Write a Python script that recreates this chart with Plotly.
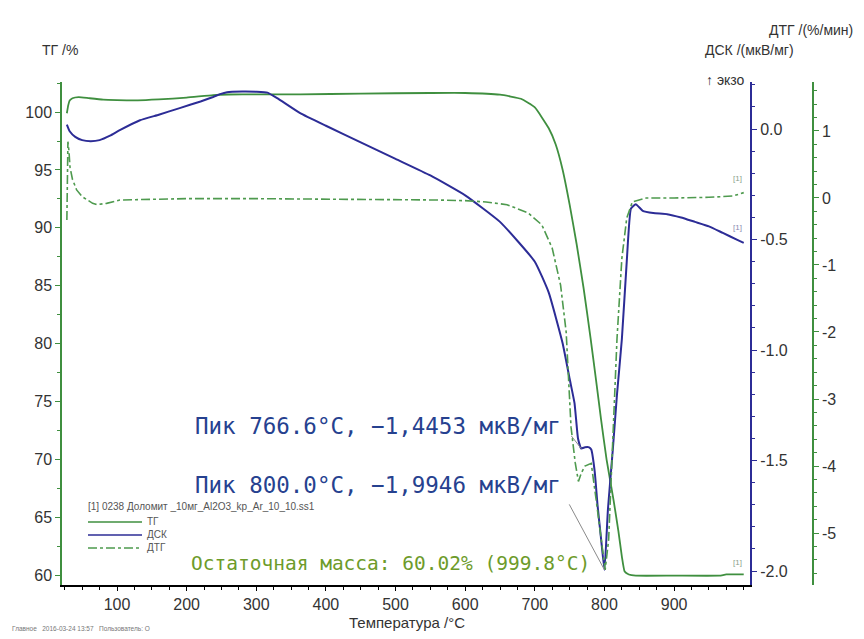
import plotly.graph_objects as go

# ---------------- data ----------------
T_tg = [28, 30, 32, 36, 45, 60, 80, 100, 130, 160, 200, 238, 260, 300, 363, 450, 550,
        600, 650, 680, 700, 720, 730, 740, 750, 760, 770, 780, 788, 795, 803, 813,
        820, 825, 829, 835, 845, 900, 965, 975, 1000]
tg = [99.9, 100.6, 101.0, 101.2, 101.3, 101.2, 101.08, 101.04, 101.02, 101.1, 101.25,
      101.47, 101.52, 101.53, 101.53, 101.6, 101.65, 101.65, 101.5, 101.15, 100.4,
      98.6, 97.2, 95.0, 92.0, 88.6, 84.8, 80.5, 76.8, 73.5, 70.0, 66.5, 63.8, 61.6,
      60.3, 60.05, 59.95, 59.95, 59.95, 60.05, 60.05]

T_dsc = [28, 32, 40, 50, 62, 75, 90, 104, 133, 160, 190, 220, 238, 248, 258, 280, 300,
         316, 330, 363, 400, 450, 500, 550, 600, 650, 700, 720, 740, 750, 757, 762,
         766.6, 772, 778, 781, 786, 790, 795, 800, 805, 812, 818, 825, 832, 838, 845,
         855, 870, 890, 910, 930, 950, 970, 990, 1000]
dsc = [0.02, -0.01, -0.035, -0.05, -0.055, -0.05, -0.03, -0.005, 0.04, 0.065, 0.095,
       0.125, 0.145, 0.158, 0.167, 0.17, 0.169, 0.165, 0.14, 0.072, 0.015, -0.06,
       -0.135, -0.21, -0.30, -0.42, -0.60, -0.74, -0.97, -1.13, -1.24, -1.40,
       -1.4453, -1.44, -1.44, -1.45, -1.55, -1.70, -1.85, -1.9946, -1.72, -1.45,
       -1.2, -0.95, -0.6, -0.36, -0.34, -0.37, -0.38, -0.385, -0.40, -0.42, -0.44,
       -0.47, -0.50, -0.515]

T_dtg = [28, 29.5, 31, 32.5, 36, 42, 50, 57, 65, 71, 85, 104, 150, 200, 300, 400, 500,
         560, 600, 630, 660, 690, 710, 725, 737, 745, 752, 758, 762.6, 767, 772, 781,
         788, 795, 801, 806, 812, 818, 825, 832, 840, 860, 900, 950, 985, 1000]
dtg = [-0.33, 0.84, 0.7, 0.46, 0.28, 0.12, 0.02, -0.03, -0.08, -0.10, -0.08, -0.03,
       -0.02, -0.01, -0.01, -0.015, -0.02, -0.03, -0.04, -0.06, -0.1, -0.22, -0.4,
       -0.75, -1.3, -2.0, -3.42, -3.95, -4.23, -4.1, -4.0, -3.96, -4.5, -5.1, -5.55,
       -5.1, -3.6, -2.1, -0.9, -0.3, -0.06, 0.0, 0.0, 0.01, 0.03, 0.08]

x_ticks = [100, 200, 300, 400, 500, 600, 700, 800, 900]
tg_ticks = [60, 65, 70, 75, 80, 85, 90, 95, 100]
dsc_ticks = [0.0, -0.5, -1.0, -1.5, -2.0]
dtg_ticks = [1, 0, -1, -2, -3, -4, -5]

peak_T = [766.6, 800.0]
peak_val = [-1.4453, -1.9946]
residual_mass = 60.02
residual_T = 999.8

# ---------------- style ----------------
W, H = 864, 639
L, R, T, B = 62, 40, 82, 54
PW = W - L - R
PH = H - T - B


def px(xp):
    return (xp - L) / PW


def py(yp):
    return (H - B - yp) / PH


GREEN = "#3f8f3f"
GREEN_DTG = "#4e9a4e"
BLUE = "#2c2c96"
TXT = "#333333"
TICKFONT = dict(family="Liberation Sans, Arial, sans-serif", size=16, color=TXT)

fig = go.Figure()
fig.add_trace(go.Scatter(x=T_tg, y=tg, mode="lines", name="ТГ",
                         line=dict(color=GREEN, width=1.8, shape="spline", smoothing=0.4),
                         yaxis="y", showlegend=False))
fig.add_trace(go.Scatter(x=T_dtg, y=dtg, mode="lines", name="ДТГ",
                         line=dict(color=GREEN_DTG, width=1.6, dash="dashdot"),
                         yaxis="y3", showlegend=False))
fig.add_trace(go.Scatter(x=T_dsc, y=dsc, mode="lines", name="ДСК",
                         line=dict(color=BLUE, width=2, shape="spline", smoothing=0.4),
                         yaxis="y2", showlegend=False))

fig.update_layout(
    width=W, height=H,
    margin=dict(l=L, r=R, t=T, b=B, pad=0),
    paper_bgcolor="white", plot_bgcolor="white",
    showlegend=False,
    xaxis=dict(domain=[0, (750 - L) / PW], range=[21, 1009], tickvals=x_ticks,
               ticks="outside", ticklen=4, tickcolor="black", showline=True,
               linecolor="black", linewidth=2, showgrid=False, zeroline=False,
               tickfont=TICKFONT,
               minor=dict(dtick=25, ticks="outside", ticklen=3, tickcolor="black")),
    yaxis=dict(range=[59.14, 102.6], tickvals=tg_ticks, ticks="outside", ticklen=5,
               tickcolor=GREEN, showline=True, linecolor=GREEN, linewidth=1.5,
               showgrid=False, zeroline=False, tickfont=TICKFONT,
               minor=dict(dtick=2.5, ticks="outside", ticklen=3, tickcolor=GREEN)),
    yaxis2=dict(overlaying="y", side="right", anchor="x", range=[-2.063, 0.213],
                tickvals=dsc_ticks, ticktext=[f"{v:.1f}" for v in dsc_ticks],
                ticks="outside", ticklen=5, tickcolor=BLUE, showline=True,
                linecolor=BLUE, linewidth=2, showgrid=False, zeroline=False,
                tickfont=TICKFONT,
                minor=dict(dtick=0.1, ticks="outside", ticklen=3, tickcolor=BLUE)),
    yaxis3=dict(overlaying="y", side="right", anchor="free", position=px(813),
                range=[-5.776, 1.731], tickvals=dtg_ticks,
                ticktext=[str(v) for v in dtg_ticks],
                ticks="outside", ticklen=5, tickcolor=GREEN, showline=True,
                linecolor=GREEN, linewidth=1.5, showgrid=False, zeroline=False,
                tickfont=TICKFONT,
                minor=dict(dtick=0.2, ticks="outside", ticklen=3, tickcolor=GREEN)),
)

ann = []
TITLEFONT = dict(family="Liberation Sans, Arial, sans-serif", size=14, color=TXT)


def paper_text(text, xp, yp, font, xanchor="center"):
    return dict(text=text, xref="paper", yref="paper", x=px(xp), y=py(yp),
                xanchor=xanchor, yanchor="middle", showarrow=False, font=font)


ann.append(paper_text("ТГ /%", 60, 50, TITLEFONT))
ann.append(paper_text("ДСК /(мкВ/мг)", 749, 50, TITLEFONT))
ann.append(paper_text("ДТГ /(%/мин)", 811, 30, TITLEFONT))
ann.append(paper_text("↑ экзо", 747, 80, TITLEFONT, xanchor="right"))
ann.append(paper_text("Температура /°C", 407, 622,
                      dict(family="Liberation Sans, Arial, sans-serif", size=15, color=TXT)))
ann.append(paper_text("Главное   2016-03-24 13:57   Пользователь: О", 10, 628,
                      dict(family="Liberation Sans, Arial, sans-serif", size=6.5,
                           color="#777777"), xanchor="left"))


def fmt_val(v):
    return "−" + f"{abs(v):.4f}".replace(".", ",")


# peak annotations
PEAKFONT = dict(family="DejaVu Sans Mono, monospace", size=22.5, color="#26418f")
ann.append(dict(text=f"Пик {peak_T[0]:.1f}°C, {fmt_val(peak_val[0])} мкВ/мг",
                xref="x", yref="y2", x=740.8, y=-1.344, xanchor="right",
                yanchor="middle", showarrow=False, font=PEAKFONT))
ann.append(dict(text=f"Пик {peak_T[1]:.1f}°C, {fmt_val(peak_val[1])} мкВ/мг",
                xref="x", yref="y2", x=740.8, y=-1.611, xanchor="right",
                yanchor="middle", showarrow=False, font=PEAKFONT))
ann.append(dict(text=f"Остаточная масса: {residual_mass:.2f}% ({residual_T:.1f}°C)",
                xref="x", yref="y", x=782.5, y=61.04, xanchor="right",
                yanchor="middle", showarrow=False,
                font=dict(family="DejaVu Sans Mono, monospace", size=19.5,
                          color="#6d9b2a")))
# leader lines
ann.append(dict(text="", xref="x", yref="y2", x=peak_T[0], y=peak_val[0], ax=-11, ay=-14,
                showarrow=True, arrowhead=0, arrowwidth=1, arrowcolor="#8a8a8a",
                standoff=0, startstandoff=0))
ann.append(dict(text="", xref="x", yref="y2", x=peak_T[1], y=peak_val[1], ax=-36, ay=-67,
                showarrow=True, arrowhead=0, arrowwidth=1, arrowcolor="#8a8a8a",
                standoff=0, startstandoff=0))

# [1] curve tags
TAGFONT = dict(family="Liberation Sans, Arial, sans-serif", size=8, color="#8aa08a")
ann.append(dict(text="[1]", xref="x", yref="y3", x=T_dtg[-1], y=dtg[-1] + 0.12,
                xanchor="right", yanchor="bottom", showarrow=False, font=TAGFONT))
ann.append(dict(text="[1]", xref="x", yref="y2", x=T_dsc[-1], y=dsc[-1] + 0.04,
                xanchor="right", yanchor="bottom", showarrow=False,
                font=dict(family="Liberation Sans, Arial, sans-serif", size=8,
                          color="#8a8ab0")))
ann.append(dict(text="[1]", xref="x", yref="y", x=T_tg[-1], y=tg[-1] + 0.5,
                xanchor="right", yanchor="bottom", showarrow=False, font=TAGFONT))

# manual legend
LEGFONT = dict(family="Liberation Sans Narrow, Liberation Sans, Arial, sans-serif",
               size=10, color="#555555")
ann.append(paper_text("[1] 0238 Доломит _10мг_Al2O3_kp_Ar_10_10.ss1", 86, 506, LEGFONT,
                      xanchor="left"))
shapes = []
leg_items = [("ТГ", GREEN, "solid", 522), ("ДСК", BLUE, "solid", 535),
             ("ДТГ", GREEN_DTG, "dashdot", 548)]
for name, col, dash, yy in leg_items:
    shapes.append(dict(type="line", xref="paper", yref="paper", x0=px(88), x1=px(142),
                       y0=py(yy), y1=py(yy), line=dict(color=col, width=1.3, dash=dash)))
    ann.append(paper_text(name, 145, yy - 1, LEGFONT, xanchor="left"))

fig.update_layout(annotations=ann, shapes=shapes)
fig.write_html("out.html")
